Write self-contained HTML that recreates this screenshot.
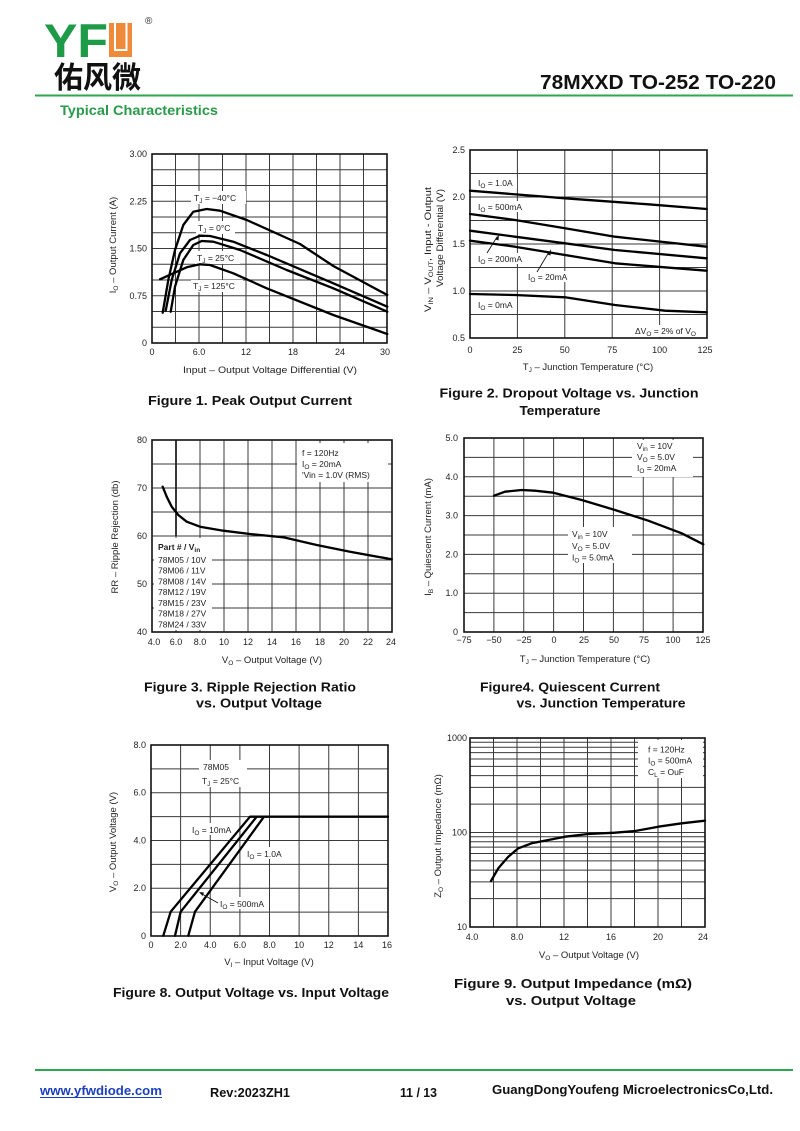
<!DOCTYPE html>
<html><head><meta charset="utf-8"><style>
html,body{margin:0;padding:0;background:#fff;}
svg{display:block;font-family:"Liberation Sans","Noto Sans CJK SC",sans-serif;}
.g{stroke:#3a3a3a;stroke-width:1;fill:none;}
.b{stroke:#111;stroke-width:1.6;fill:none;}
.c{stroke:#000;stroke-width:2.3;fill:none;stroke-linejoin:round;stroke-linecap:round;}
.t{font-size:9px;fill:#222;}
.a{font-size:9.5px;fill:#222;}
.l{font-size:8.5px;fill:#222;}
.cap{font-size:13px;font-weight:bold;fill:#111;}
.ft{font-size:13px;font-weight:bold;fill:#111;}
</style></head><body>
<svg width="800" height="1131" viewBox="0 0 800 1131" xmlns="http://www.w3.org/2000/svg">
<rect width="800" height="1131" fill="#fff"/>

<!-- HEADER -->
<text x="44" y="57" font-size="47" font-weight="bold" fill="#1e9b48" textLength="64" lengthAdjust="spacingAndGlyphs">YF</text>
<rect x="109" y="23" width="23" height="34" fill="#ee8a3a"/>
<path d="M115 23V50H126.5V23" stroke="#fff" stroke-width="2" fill="none"/>
<text x="145" y="24" font-size="10" fill="#333">®</text>
<text x="54" y="88" font-size="30" font-weight="bold" fill="#111" textLength="87" lengthAdjust="spacingAndGlyphs" style="font-family:'Noto Sans CJK SC',sans-serif">佑风微</text>
<text x="776" y="89" font-size="20" font-weight="bold" fill="#111" text-anchor="end" textLength="236" lengthAdjust="spacingAndGlyphs">78MXXD  TO-252 TO-220</text>
<line x1="35" y1="95.5" x2="793" y2="95.5" stroke="#2ea84f" stroke-width="2"/>
<text x="60" y="115" font-size="14" font-weight="bold" fill="#2a9a4a" textLength="158" lengthAdjust="spacingAndGlyphs">Typical Characteristics</text>

<!-- FIGURE 1 -->
<path class="g" d="M175.5 154V343M199 154V343M222.5 154V343M246 154V343M269.5 154V343M293 154V343M316.5 154V343M340 154V343M363.5 154V343M152 169.75H387M152 185.5H387M152 201.25H387M152 217H387M152 232.75H387M152 248.5H387M152 264.25H387M152 280H387M152 295.75H387M152 311.5H387M152 327.25H387"/>
<rect class="b" x="152" y="154" width="235" height="189"/>
<rect x="191" y="191" width="55" height="13" fill="#fff"/>
<rect x="196" y="221" width="39" height="13" fill="#fff"/>
<rect x="195" y="251" width="45" height="13" fill="#fff"/>
<rect x="191" y="280" width="52" height="12" fill="#fff"/>
<polyline class="c" points="162.7,312.7 168.3,280 175,250 183.3,225 193.3,211.7 206.7,209 220,210.7 246.7,220 300,244 333.3,266 387.3,295"/>
<polyline class="c" points="165.7,310.7 171.7,280 180,253.3 190,240 200,235.7 210,236 233.3,241.7 266.7,255 333.3,283.3 387.3,306.7"/>
<polyline class="c" points="170.7,311.7 175,286.7 183.3,260 193.3,245 201.7,241 213.3,241.7 240,250 286.7,270 333.3,288.3 387.3,311.7"/>
<polyline class="c" points="160,279.3 173.3,273.3 186.7,267.3 200,264.3 210,265 233.3,273.3 266.7,288.3 333.3,315 387.3,334"/>
<text class="l" x="194" y="201">T<tspan font-size="6.5" dy="2">J</tspan><tspan dy="-2"> = −40°C</tspan></text>
<text class="l" x="198" y="231">T<tspan font-size="6.5" dy="2">J</tspan><tspan dy="-2"> = 0°C</tspan></text>
<text class="l" x="197" y="261">T<tspan font-size="6.5" dy="2">J</tspan><tspan dy="-2"> = 25°C</tspan></text>
<text class="l" x="193" y="289">T<tspan font-size="6.5" dy="2">J</tspan><tspan dy="-2"> = 125°C</tspan></text>
<g class="t" text-anchor="end">
<text x="147" y="157">3.00</text><text x="147" y="204.3">2.25</text><text x="147" y="251.5">1.50</text><text x="147" y="298.8">0.75</text><text x="147" y="346">0</text>
</g>
<g class="t" text-anchor="middle">
<text x="152" y="355">0</text><text x="199" y="355">6.0</text><text x="246" y="355">12</text><text x="293" y="355">18</text><text x="340" y="355">24</text><text x="385" y="355">30</text>
</g>
<text class="a" x="270" y="373" text-anchor="middle" textLength="174" lengthAdjust="spacingAndGlyphs">Input – Output Voltage Differential (V)</text>
<text class="a" transform="translate(116,245) rotate(-90)" text-anchor="middle">I<tspan font-size="6.5" dy="2">O</tspan><tspan dy="-2"> – Output Current (A)</tspan></text>

<!-- FIGURE 2 -->
<path class="g" d="M517.4 150V338M564.8 150V338M612.2 150V338M659.6 150V338M470 173.5H707M470 197H707M470 220.5H707M470 244H707M470 267.5H707M470 291H707M470 314.5H707"/>
<rect class="b" x="470" y="150" width="237" height="188"/>
<rect x="476" y="177" width="41" height="11" fill="#fff"/>
<rect x="476" y="201" width="53" height="11" fill="#fff"/>
<rect x="476" y="253" width="53" height="11" fill="#fff"/>
<rect x="526" y="271" width="48" height="11" fill="#fff"/>
<rect x="476" y="299" width="41" height="11" fill="#fff"/>
<rect x="633" y="325" width="72" height="12" fill="#fff"/>
<polyline class="c" points="470,190.7 565,198.3 648.3,204.3 706.7,209"/>
<polyline class="c" points="470,214 515,220 565,228.3 615,236.7 706.7,246.7"/>
<polyline class="c" points="470,230.7 515,236.7 565,243.3 615,250 706.7,258.3"/>
<polyline class="c" points="470,240.7 515,246.7 565,255 615,263.3 706.7,270.7"/>
<polyline class="c" points="470,294 515,295 565,297.3 615,305 665,310.7 706.7,312.3"/>
<line x1="487" y1="253" x2="497" y2="237" stroke="#111" stroke-width="0.9"/>
<polygon points="499,234 495.5,239.5 498.5,240.5" fill="#111"/>
<line x1="537" y1="272" x2="549" y2="252" stroke="#111" stroke-width="0.9"/>
<polygon points="551,249 547.5,254.5 550.5,255.5" fill="#111"/>
<text class="l" x="478" y="186">I<tspan font-size="6.5" dy="2">O</tspan><tspan dy="-2"> = 1.0A</tspan></text>
<text class="l" x="478" y="210">I<tspan font-size="6.5" dy="2">O</tspan><tspan dy="-2"> = 500mA</tspan></text>
<text class="l" x="478" y="262">I<tspan font-size="6.5" dy="2">O</tspan><tspan dy="-2"> = 200mA</tspan></text>
<text class="l" x="528" y="280">I<tspan font-size="6.5" dy="2">O</tspan><tspan dy="-2"> = 20mA</tspan></text>
<text class="l" x="478" y="308">I<tspan font-size="6.5" dy="2">O</tspan><tspan dy="-2"> = 0mA</tspan></text>
<text class="l" x="635" y="334">ΔV<tspan font-size="6.5" dy="2">O</tspan><tspan dy="-2"> = 2% of V</tspan><tspan font-size="6.5" dy="2">O</tspan></text>
<g class="t" text-anchor="end">
<text x="465" y="153">2.5</text><text x="465" y="200">2.0</text><text x="465" y="247">1.5</text><text x="465" y="294">1.0</text><text x="465" y="341">0.5</text>
</g>
<g class="t" text-anchor="middle">
<text x="470" y="353">0</text><text x="517.4" y="353">25</text><text x="564.8" y="353">50</text><text x="612.2" y="353">75</text><text x="659.6" y="353">100</text><text x="705" y="353">125</text>
</g>
<text class="a" x="588" y="370" text-anchor="middle">T<tspan font-size="6.5" dy="2">J</tspan><tspan dy="-2"> – Junction Temperature (°C)</tspan></text>
<text class="a" transform="translate(431,312) rotate(-90)" textLength="125" lengthAdjust="spacingAndGlyphs">V<tspan font-size="6.5" dy="2">IN</tspan><tspan dy="-2"> – V</tspan><tspan font-size="6.5" dy="2">OUT</tspan><tspan dy="-2">, Input - Output</tspan></text>
<text class="a" transform="translate(443,287) rotate(-90)" textLength="98" lengthAdjust="spacingAndGlyphs">Voltage Differential (V)</text>
<text class="cap" x="569" y="397.5" text-anchor="middle" textLength="259" lengthAdjust="spacingAndGlyphs">Figure 2. Dropout Voltage vs. Junction</text>
<text class="cap" x="560" y="415" text-anchor="middle" textLength="81" lengthAdjust="spacingAndGlyphs">Temperature</text>
<text class="cap" x="250" y="405" text-anchor="middle" textLength="204" lengthAdjust="spacingAndGlyphs">Figure 1. Peak Output Current</text>

<!-- FIGURE 3 -->
<path class="g" d="M176 440V632M200 440V632M224 440V632M248 440V632M272 440V632M296 440V632M320 440V632M344 440V632M368 440V632M152 464H392M152 488H392M152 512H392M152 536H392M152 560H392M152 584H392M152 608H392"/>
<line x1="176" y1="440" x2="176" y2="536" stroke="#222" stroke-width="1.8"/>
<rect class="b" x="152" y="440" width="240" height="192"/>
<rect x="297" y="443" width="91" height="39" fill="#fff"/>
<rect x="154" y="538" width="58" height="92" fill="#fff"/>
<polyline class="c" points="162.7,486.7 166.7,496.7 171.7,506.7 178.3,515 186.7,521.7 200,526.7 223.3,530.7 250,534 283.3,537.3 316.7,545 350,551.7 391.7,559.3"/>
<text class="l" x="302" y="456">f = 120Hz</text>
<text class="l" x="302" y="467">I<tspan font-size="6.5" dy="2">O</tspan><tspan dy="-2"> = 20mA</tspan></text>
<text class="l" x="302" y="478">'Vin = 1.0V (RMS)</text>
<text class="l" x="158" y="550" font-weight="bold">Part # / V<tspan font-size="6.5" dy="2">in</tspan></text>
<g class="l">
<text x="158" y="563">78M05 / 10V</text><text x="158" y="573.5">78M06 / 11V</text><text x="158" y="584.3">78M08 / 14V</text><text x="158" y="595">78M12 / 19V</text><text x="158" y="606">78M15 / 23V</text><text x="158" y="616.7">78M18 / 27V</text><text x="158" y="627.3">78M24 / 33V</text>
</g>
<g class="t" text-anchor="end">
<text x="147" y="443">80</text><text x="147" y="491">70</text><text x="147" y="539">60</text><text x="147" y="587">50</text><text x="147" y="635">40</text>
</g>
<g class="t" text-anchor="middle">
<text x="154" y="645">4.0</text><text x="176" y="645">6.0</text><text x="200" y="645">8.0</text><text x="224" y="645">10</text><text x="248" y="645">12</text><text x="272" y="645">14</text><text x="296" y="645">16</text><text x="320" y="645">18</text><text x="344" y="645">20</text><text x="368" y="645">22</text><text x="391" y="645">24</text>
</g>
<text class="a" x="272" y="663" text-anchor="middle">V<tspan font-size="6.5" dy="2">O</tspan><tspan dy="-2"> – Output Voltage (V)</tspan></text>
<text class="a" transform="translate(118,537) rotate(-90)" text-anchor="middle">RR – Ripple Rejection (db)</text>
<text class="cap" x="250" y="691.5" text-anchor="middle" textLength="212" lengthAdjust="spacingAndGlyphs">Figure 3. Ripple Rejection Ratio</text>
<text class="cap" x="259" y="707.5" text-anchor="middle" textLength="126" lengthAdjust="spacingAndGlyphs">vs. Output Voltage</text>

<!-- FIGURE 4 -->
<path class="g" d="M493.9 438V632M523.75 438V632M553.6 438V632M583.5 438V632M613.4 438V632M643.25 438V632M673.1 438V632M464 457.4H703M464 476.8H703M464 496.2H703M464 515.6H703M464 535H703M464 554.4H703M464 573.8H703M464 593.2H703M464 612.6H703"/>
<rect class="b" x="464" y="438" width="239" height="194"/>
<rect x="632" y="440" width="61" height="37" fill="#fff"/>
<rect x="568" y="527" width="64" height="36" fill="#fff"/>
<polyline class="c" points="494,495.7 505,491.7 521.7,490 535,490.7 553.3,492.7 581.7,500 615,510 648.3,520.7 681.7,533.3 703.3,544.3"/>
<text class="l" x="637" y="449">V<tspan font-size="6.5" dy="2">in</tspan><tspan dy="-2"> = 10V</tspan></text>
<text class="l" x="637" y="460">V<tspan font-size="6.5" dy="2">O</tspan><tspan dy="-2"> = 5.0V</tspan></text>
<text class="l" x="637" y="471">I<tspan font-size="6.5" dy="2">O</tspan><tspan dy="-2"> = 20mA</tspan></text>
<text class="l" x="572" y="537">V<tspan font-size="6.5" dy="2">in</tspan><tspan dy="-2"> = 10V</tspan></text>
<text class="l" x="572" y="549">V<tspan font-size="6.5" dy="2">O</tspan><tspan dy="-2"> = 5.0V</tspan></text>
<text class="l" x="572" y="560.5">I<tspan font-size="6.5" dy="2">O</tspan><tspan dy="-2"> = 5.0mA</tspan></text>
<g class="t" text-anchor="end">
<text x="458" y="441">5.0</text><text x="458" y="480">4.0</text><text x="458" y="518.6">3.0</text><text x="458" y="557.4">2.0</text><text x="458" y="596">1.0</text><text x="458" y="635">0</text>
</g>
<g class="t" text-anchor="middle">
<text x="464" y="643">−75</text><text x="494" y="643">−50</text><text x="524" y="643">−25</text><text x="554" y="643">0</text><text x="584" y="643">25</text><text x="614" y="643">50</text><text x="644" y="643">75</text><text x="673" y="643">100</text><text x="703" y="643">125</text>
</g>
<text class="a" x="585" y="662" text-anchor="middle">T<tspan font-size="6.5" dy="2">J</tspan><tspan dy="-2"> – Junction Temperature (°C)</tspan></text>
<text class="a" transform="translate(431,537) rotate(-90)" text-anchor="middle">I<tspan font-size="6.5" dy="2">B</tspan><tspan dy="-2"> – Quiescent Current (mA)</tspan></text>
<text class="cap" x="570" y="691.5" text-anchor="middle" textLength="180" lengthAdjust="spacingAndGlyphs">Figure4. Quiescent Current</text>
<text class="cap" x="601" y="707.5" text-anchor="middle" textLength="169" lengthAdjust="spacingAndGlyphs">vs. Junction Temperature</text>

<!-- FIGURE 8 -->
<path class="g" d="M180.6 745V936M210.25 745V936M239.9 745V936M269.5 745V936M299.1 745V936M328.75 745V936M358.4 745V936M151 768.9H388M151 792.75H388M151 816.6H388M151 840.5H388M151 864.4H388M151 888.25H388M151 912.1H388"/>
<rect class="b" x="151" y="745" width="237" height="191"/>
<rect x="199" y="760" width="48" height="27" fill="#fff"/>
<rect x="190" y="823" width="42" height="12" fill="#fff"/>
<rect x="245" y="847" width="39" height="12" fill="#fff"/>
<rect x="218" y="897" width="47" height="12" fill="#fff"/>
<polyline class="c" points="163.3,935.7 170.7,911.7 250,816.7 388,816.7"/>
<polyline class="c" points="175,935.7 180.7,911.7 256.7,816.7"/>
<polyline class="c" points="188.3,935.7 195,911.7 264,816.7"/>
<line x1="218" y1="903" x2="202" y2="894" stroke="#111" stroke-width="0.9"/>
<polygon points="199,892 204,892.5 202.5,896" fill="#111"/>
<text class="l" x="203" y="770">78M05</text>
<text class="l" x="202" y="784">T<tspan font-size="6.5" dy="2">J</tspan><tspan dy="-2"> = 25°C</tspan></text>
<text class="l" x="192" y="833">I<tspan font-size="6.5" dy="2">O</tspan><tspan dy="-2"> = 10mA</tspan></text>
<text class="l" x="247" y="857">I<tspan font-size="6.5" dy="2">O</tspan><tspan dy="-2"> = 1.0A</tspan></text>
<text class="l" x="220" y="907">I<tspan font-size="6.5" dy="2">O</tspan><tspan dy="-2"> = 500mA</tspan></text>
<g class="t" text-anchor="end">
<text x="146" y="748">8.0</text><text x="146" y="795.7">6.0</text><text x="146" y="843.5">4.0</text><text x="146" y="891.2">2.0</text><text x="146" y="939">0</text>
</g>
<g class="t" text-anchor="middle">
<text x="151" y="948">0</text><text x="180.6" y="948">2.0</text><text x="210.25" y="948">4.0</text><text x="239.9" y="948">6.0</text><text x="269.5" y="948">8.0</text><text x="299.1" y="948">10</text><text x="328.75" y="948">12</text><text x="358.4" y="948">14</text><text x="387" y="948">16</text>
</g>
<text class="a" x="269" y="965" text-anchor="middle">V<tspan font-size="6.5" dy="2">I</tspan><tspan dy="-2"> – Input Voltage (V)</tspan></text>
<text class="a" transform="translate(116,842) rotate(-90)" text-anchor="middle">V<tspan font-size="6.5" dy="2">O</tspan><tspan dy="-2"> – Output Voltage (V)</tspan></text>
<text class="cap" x="251" y="997" text-anchor="middle" textLength="276" lengthAdjust="spacingAndGlyphs">Figure 8. Output Voltage vs. Input Voltage</text>

<!-- FIGURE 9 -->
<path class="g" d="M493.5 738V927M517 738V927M540.5 738V927M564 738V927M587.5 738V927M611 738V927M634.5 738V927M658 738V927M681.5 738V927M470 898.6H705M470 881.9H705M470 870.1H705M470 860.9H705M470 853.5H705M470 847.1H705M470 841.7H705M470 836.8H705M470 832.5H705M470 804.1H705M470 787.4H705M470 775.6H705M470 766.4H705M470 759H705M470 752.6H705M470 747.2H705M470 742.3H705"/>
<rect class="b" x="470" y="738" width="235" height="189"/>
<rect x="638" y="740" width="65" height="38" fill="#fff"/>
<polyline class="c" points="491,881 498.3,868.3 508.3,856.7 518.3,848.3 531.7,843.3 548.3,840 565,836.7 588.3,834 615,832.7 635,831 658.3,826.7 681.7,823.3 705,820.7"/>
<text class="l" x="648" y="752.3">f = 120Hz</text>
<text class="l" x="648" y="763.3">I<tspan font-size="6.5" dy="2">O</tspan><tspan dy="-2"> = 500mA</tspan></text>
<text class="l" x="648" y="775">C<tspan font-size="6.5" dy="2">L</tspan><tspan dy="-2"> = OuF</tspan></text>
<g class="t" text-anchor="end">
<text x="467" y="741">1000</text><text x="467" y="835.5">100</text><text x="467" y="930">10</text>
</g>
<g class="t" text-anchor="middle">
<text x="472" y="940">4.0</text><text x="517" y="940">8.0</text><text x="564" y="940">12</text><text x="611" y="940">16</text><text x="658" y="940">20</text><text x="703" y="940">24</text>
</g>
<text class="a" x="589" y="958" text-anchor="middle">V<tspan font-size="6.5" dy="2">O</tspan><tspan dy="-2"> – Output Voltage (V)</tspan></text>
<text class="a" transform="translate(441,836) rotate(-90)" text-anchor="middle">Z<tspan font-size="6.5" dy="2">O</tspan><tspan dy="-2"> – Output Impedance (mΩ)</tspan></text>
<text class="cap" x="573" y="988" text-anchor="middle" textLength="238" lengthAdjust="spacingAndGlyphs">Figure 9. Output Impedance (mΩ)</text>
<text class="cap" x="571" y="1005" text-anchor="middle" textLength="130" lengthAdjust="spacingAndGlyphs">vs. Output Voltage</text>

<!-- FOOTER -->
<line x1="35" y1="1070" x2="793" y2="1070" stroke="#2ea84f" stroke-width="2"/>
<text class="ft" x="40" y="1095" fill="#1a3fbf" style="fill:#1a3fbf" textLength="122" lengthAdjust="spacingAndGlyphs">www.yfwdiode.com</text>
<line x1="40" y1="1097.5" x2="162" y2="1097.5" stroke="#1a3fbf" stroke-width="1"/>
<text class="ft" x="210" y="1097" textLength="80" lengthAdjust="spacingAndGlyphs">Rev:2023ZH1</text>
<text class="ft" x="400" y="1097" font-size="11" textLength="37" lengthAdjust="spacingAndGlyphs">11 / 13</text>
<text class="ft" x="492" y="1094" textLength="281" lengthAdjust="spacingAndGlyphs">GuangDongYoufeng MicroelectronicsCo,Ltd.</text>
</svg>
</body></html>
